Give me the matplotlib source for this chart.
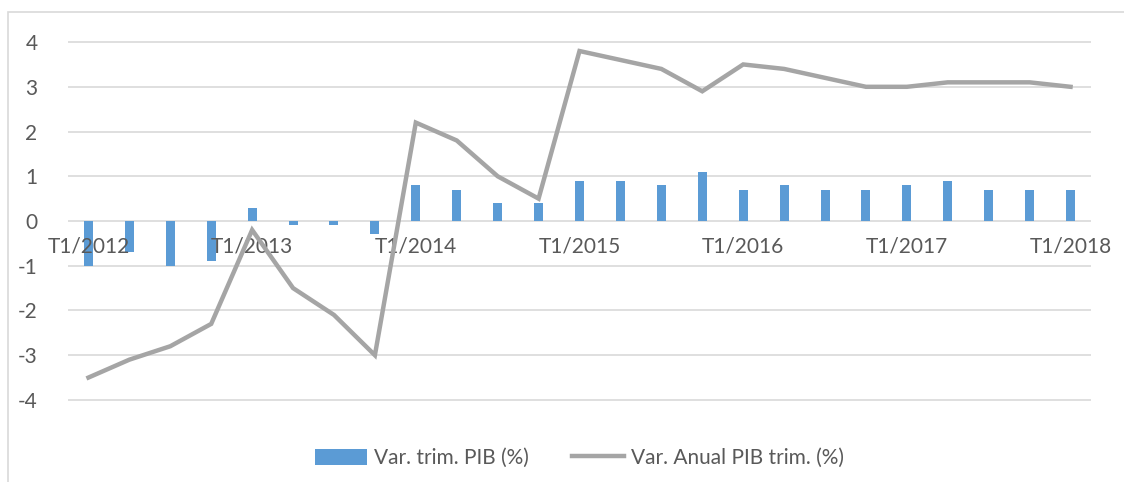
import matplotlib
matplotlib.use("Agg")
import matplotlib.pyplot as plt
import numpy as np

quarters = ["T1/2012", "T2/2012", "T3/2012", "T4/2012",
            "T1/2013", "T2/2013", "T3/2013", "T4/2013",
            "T1/2014", "T2/2014", "T3/2014", "T4/2014",
            "T1/2015", "T2/2015", "T3/2015", "T4/2015",
            "T1/2016", "T2/2016", "T3/2016", "T4/2016",
            "T1/2017", "T2/2017", "T3/2017", "T4/2017",
            "T1/2018"]
var_trim = [-1.0, -0.7, -1.0, -0.9,
            0.3, -0.1, -0.1, -0.3,
            0.8, 0.7, 0.4, 0.4,
            0.9, 0.9, 0.8, 1.1,
            0.7, 0.8, 0.7, 0.7,
            0.8, 0.9, 0.7, 0.7,
            0.7]
var_anual = [-3.5, -3.1, -2.8, -2.3,
             -0.2, -1.5, -2.1, -3.0,
             2.2, 1.8, 1.0, 0.5,
             3.8, 3.6, 3.4, 2.9,
             3.5, 3.4, 3.2, 3.0,
             3.0, 3.1, 3.1, 3.1,
             3.0]
y_ticks = list(range(-4, 5))

plt.rcParams["font.family"] = ["Lato", "DejaVu Sans"]
text_color = "#595959"

fig = plt.figure(figsize=(11.24, 4.82), dpi=100)
# chart frame like an Excel chart area
fig.patches.append(plt.Rectangle((8 / 1124, -0.01), 1.1, 1 - 12 / 482 + 0.01,
                                 transform=fig.transFigure, fill=False,
                                 edgecolor="#D9D9D9", linewidth=1.2))

ax = fig.add_axes([68 / 1124, 1 - 412 / 482, (1091 - 68) / 1124, (412 - 30) / 482])
x = np.arange(len(quarters))

# gridlines by hand so tick labels can sit above the bars
for yv in y_ticks:
    ax.axhline(yv, color="#D9D9D9", linewidth=1.2, zorder=0.5)

bars = ax.bar(x, var_trim, width=0.22, color="#5B9BD5", label="Var. trim. PIB (%)", zorder=2)
line, = ax.plot(x, var_anual, color="#A5A5A5", linewidth=3.2, solid_joinstyle="miter",
                label="Var. Anual PIB trim. (%)", zorder=4)
ax.set_axisbelow(False)  # axis (tick labels) at zorder 2.5: above bars, under line

ax.set_xlim(-0.5, len(quarters) - 0.5)
ax.set_ylim(-4.27, 4.27)
ax.set_yticks(y_ticks)
ax.set_yticklabels([str(v) for v in y_ticks])

for s in ax.spines.values():
    s.set_visible(False)

# category labels next to zero axis, one per year
ax.spines["bottom"].set_position(("data", 0))
ax.set_xticks(x[::4])
ax.set_xticklabels(quarters[::4])
ax.tick_params(axis="x", length=0, pad=11, labelsize=15, colors=text_color)
ax.tick_params(axis="y", length=0, pad=22, labelsize=15, colors=text_color)

leg = ax.legend([bars, line], [bars.get_label(), line.get_label()],
                loc="upper center", bbox_to_anchor=(0.5, -0.045), ncol=2, frameon=False,
                fontsize=15, handlelength=2.5, handleheight=0.8, columnspacing=2.1,
                handletextpad=0.3)
for t in leg.get_texts():
    t.set_color(text_color)

fig.savefig("out.png", dpi=100)
